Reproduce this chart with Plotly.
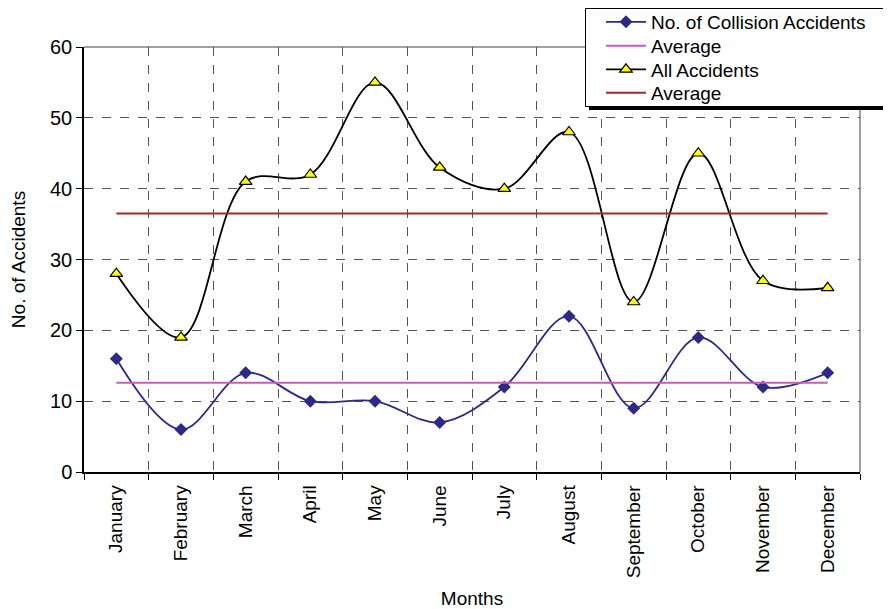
import plotly.graph_objects as go

months = ["January", "February", "March", "April", "May", "June", "July",
          "August", "September", "October", "November", "December"]
collision = [16, 6, 14, 10, 10, 7, 12, 22, 9, 19, 12, 14]
all_acc = [28, 19, 41, 42, 55, 43, 40, 48, 24, 45, 27, 26]

avg_collision = sum(collision) / len(collision)
avg_all = sum(all_acc) / len(all_acc)

FONT = "Liberation Sans, Arial, sans-serif"
OFF = 8  # page body offset
W, H = 891 - OFF, 609 - OFF
L, R, T, B = 84 - OFF, 31, 47 - OFF, 137
PW, PH = W - L - R, H - T - B


def px_x(p):
    return (p - OFF - L) / PW


def px_y(p):
    return (OFF + H - B - p) / PH


fig = go.Figure()
fig.add_trace(go.Scatter(
    x=months, y=collision, name="No. of Collision Accidents", legend="legend",
    mode="lines+markers", line=dict(color="#2B2B85", width=1.8, shape="spline", smoothing=1),
    marker=dict(symbol="diamond", size=10, color="#2B2B85")))
fig.add_trace(go.Scatter(
    x=months, y=[avg_collision] * len(months), name="Average", legend="legend2",
    mode="lines", line=dict(color="#C060B8", width=2)))
fig.add_trace(go.Scatter(
    x=months, y=all_acc, name="All Accidents", legend="legend3",
    mode="lines+markers", line=dict(color="#000000", width=1.8, shape="spline", smoothing=1),
    marker=dict(symbol="triangle-up", size=11, color="#FFFF00",
                line=dict(color="#000000", width=1.2))))
fig.add_trace(go.Scatter(
    x=months, y=[avg_all] * len(months), name="Average", legend="legend4",
    mode="lines", line=dict(color="#9E2B2B", width=2)))


def leg(row_y):
    return dict(xref="container", yref="container",
                x=(601 - OFF) / W, y=1 - (row_y - OFF) / H,
                xanchor="left", yanchor="middle",
                bgcolor="rgba(0,0,0,0)", borderwidth=0,
                font=dict(family=FONT, size=19), itemwidth=40)


fig.update_layout(
    width=W, height=H,
    margin=dict(l=L, r=R, t=T, b=B, autoexpand=False),
    paper_bgcolor="white", plot_bgcolor="white",
    font=dict(family=FONT, size=19, color="#000000"),
    showlegend=True,
    legend=leg(22), legend2=leg(46), legend3=leg(69.5), legend4=leg(93),
    xaxis=dict(type="category", tickson="boundaries", range=[-0.5, 11.5],
               showline=True, linecolor="#000000", linewidth=1.5,
               showgrid=True, gridcolor="#555555", griddash="dash", gridwidth=1,
               ticks="outside", ticklen=6, tickcolor="#000000",
               tickangle=-90, tickfont=dict(family=FONT, size=19),
               ticklabelstandoff=4,
               title=dict(text="Months", font=dict(family=FONT, size=19), standoff=14),
               zeroline=False, automargin=False),
    yaxis=dict(range=[0, 60], dtick=10, tick0=0,
               showline=True, linecolor="#000000", linewidth=1.5,
               showgrid=True, gridcolor="#555555", griddash="dash", gridwidth=1,
               ticks="outside", ticklen=6, tickcolor="#000000",
               tickfont=dict(family=FONT, size=20),
               title=dict(text="No. of Accidents", font=dict(family=FONT, size=19), standoff=21),
               zeroline=False, automargin=False),
    shapes=[
        dict(type="line", xref="paper", yref="paper", x0=0, x1=1, y0=1, y1=1,
             line=dict(color="#808080", width=1.5), layer="below"),
        dict(type="line", xref="paper", yref="paper", x0=1, x1=1, y0=0, y1=1,
             line=dict(color="#808080", width=1.5), layer="below"),
        dict(type="rect", xref="paper", yref="paper",
             x0=px_x(589), x1=px_x(891), y0=px_y(110), y1=px_y(11),
             fillcolor="#000000", line=dict(width=0), layer="above"),
        dict(type="rect", xref="paper", yref="paper",
             x0=px_x(585.5), x1=px_x(887.5), y0=px_y(106.5), y1=px_y(8.5),
             fillcolor="#FFFFFF", line=dict(width=1, color="#000000"), layer="above"),
    ],
)

fig.write_html("out.html")
